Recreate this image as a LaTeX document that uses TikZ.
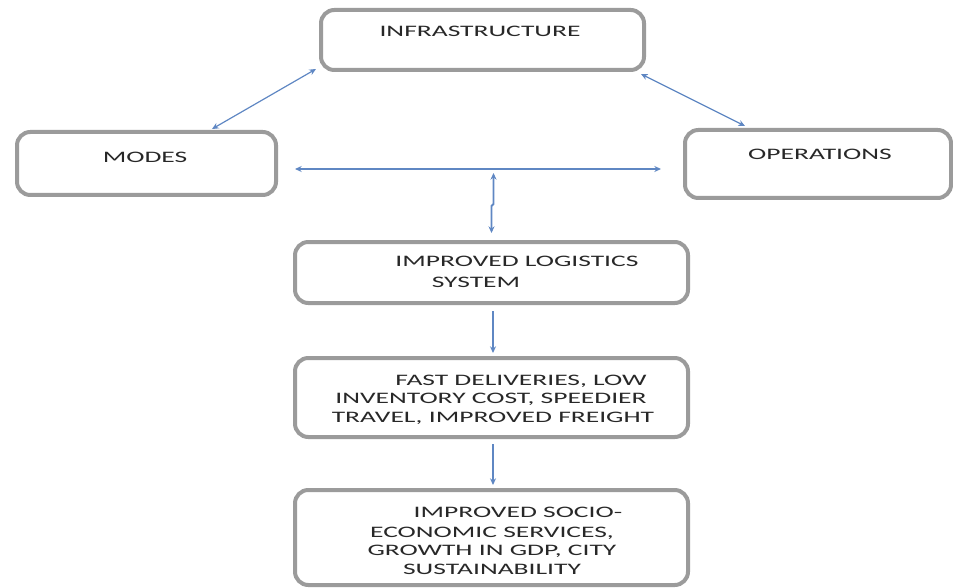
\documentclass[tikz,border=0pt]{standalone}
\usepackage{fontspec}
\setmainfont[FakeStretch=1.72]{Carlito}
\usetikzlibrary{arrows.meta,calc}
\definecolor{boxgray}{RGB}{155,155,155}
\definecolor{arrowblue}{RGB}{95,135,195}
\definecolor{txtgray}{RGB}{40,40,40}
\begin{document}
\begin{tikzpicture}[x=0.75pt,y=-0.75pt,
  stepbox/.style={draw=boxgray,line width=3pt,rounded corners=10pt,fill=white,inner sep=0pt},
  lbl/.style={anchor=base,inner sep=0pt,text=txtgray,font=\fontsize{12pt}{14.25pt}\selectfont},
  conn/.style={draw=arrowblue,line width=0.9pt},
  dbl/.style={conn,{Stealth[length=5pt,width=4.5pt]}-{Stealth[length=5pt,width=4.5pt]}},
  sgl/.style={conn,-{Stealth[length=5pt,width=4.5pt]}}]
\useasboundingbox (0,0) rectangle (953,588);
% boxes
\node[stepbox,minimum width=242.25pt,minimum height=45pt] (infra) at (482.5,40) {};
\node[stepbox,minimum width=194.25pt,minimum height=47.25pt] (modes) at (146.5,163.5) {};
\node[stepbox,minimum width=199.5pt,minimum height=51pt] (ops) at (818,164) {};
\node[stepbox,minimum width=294.75pt,minimum height=45.75pt] (logi) at (491.5,272.5) {};
\node[stepbox,minimum width=294.75pt,minimum height=59.25pt] (fast) at (491.5,397.5) {};
\node[stepbox,minimum width=294.75pt,minimum height=71.25pt] (socio) at (491.5,537.5) {};
% texts
\node[lbl] (infraT) at (480,37) {INFRASTRUCTURE};
\node[lbl] (modesT) at (145,163) {MODES};
\node[lbl] (opsT) at (820,160) {OPERATIONS};
\node[lbl] (logiA) at (517,266) {IMPROVED LOGISTICS};
\node[lbl] (logiB) at (476,287) {SYSTEM};
\node[lbl] (fastA) at (521,385) {FAST DELIVERIES, LOW};
\node[lbl] (fastB) at (491,403) {INVENTORY COST, SPEEDIER};
\node[lbl] (fastC) at (493,422) {TRAVEL, IMPROVED FREIGHT};
\node[lbl] (socA) at (518,517) {IMPROVED SOCIO-};
\node[lbl] (socB) at (492,537) {ECONOMIC SERVICES,};
\node[lbl] (socC) at (492,555) {GROWTH IN GDP, CITY};
\node[lbl] (socD) at (492,574) {SUSTAINABILITY};
% connector end points
\coordinate (hL) at ($(modes.east)+(17,5.5)$);
\coordinate (hR) at ($(ops.west)+(-22,5)$);
\coordinate (vTop) at (493.5,173);
% connectors
\draw[dbl] ($(infra.south west)+(-3,-3)$) -- ($(modes.north east)+(-66,-1)$);
\draw[dbl] ($(infra.south east)+(-5,2)$) -- ($(ops.north west)+(62,-2)$);
\draw[dbl] (hL) -- (hR);
\draw[dbl,line width=1.4pt] (vTop) -- ++(0,31) -- ++(-2,2) -- ($(logi.north)+(0,-7)$);
\draw[sgl] ($(logi.south)+(1.5,6)$) -- ($(fast.north)+(1.5,-3)$);
\draw[sgl] ($(fast.south)+(1.5,5)$) -- ($(socio.north)+(1.5,-3)$);
\end{tikzpicture}
\end{document}
